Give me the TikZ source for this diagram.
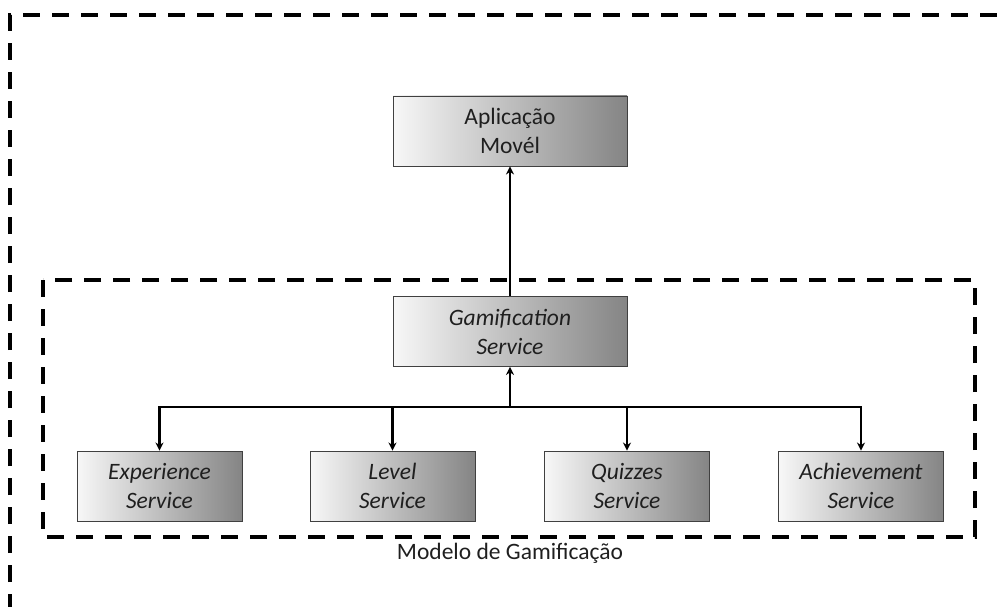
\documentclass[tikz,border=0pt]{standalone}
\usepackage{fontspec}
\setmainfont{Carlito}
\usetikzlibrary{arrows.meta}
\begin{document}
\begin{tikzpicture}[x=1pt,y=-1pt,
  box/.style={draw=black!75, line width=0.9pt, left color=black!3, right color=black!48,
    minimum height=70pt, inner sep=0pt, align=center, text=black!88,
    font=\fontsize{23.5}{29}\selectfont},
  svc/.style={box, minimum width=165pt, font=\fontsize{23.5}{29}\selectfont\itshape},
  conn/.style={line width=2.6pt, -{Stealth[length=8pt,width=8pt]}},
  frame/.style={line width=4pt, dash pattern=on 17pt off 12pt}]
\useasboundingbox (0,0) rectangle (1002,607);
\clip (0,0) rectangle (1002,607);

% outer frame (runs past the page edges)
\draw[frame] (10,640) -- (10,15) -- (1060,15);

% gamification model frame
\draw[frame] (43,280) rectangle (975,537);
\node[font=\fontsize{23.5}{29}\selectfont, text=black!88] (lbl) at (510,553) {Modelo de Gamificação};

% nodes
\node[box, minimum width=234pt] (app) at (510,131) {Aplicação\\Movél};
\node[box, minimum width=234pt, font=\fontsize{23.5}{29}\selectfont\itshape] (gam) at (510,331.5) {Gamification\\Service};
\node[svc] (exp) at (159.5,486) {Experience\\Service};
\node[svc] (lvl) at (392.5,486) {Level\\Service};
\node[svc] (qz) at (627,486) {Quizzes\\Service};
\node[svc] (ach) at (861,486) {Achievement\\Service};

% connectors
\coordinate (bus) at (510,407);
\draw[conn] (gam.north) -- (app.south);
\draw[conn] (bus) -- (gam.south);
\draw[conn] (bus) -| (exp.north);
\draw[conn] (bus) -| (lvl.north);
\draw[conn] (bus) -| (qz.north);
\draw[conn] (bus) -| (ach.north);
\end{tikzpicture}
\end{document}
